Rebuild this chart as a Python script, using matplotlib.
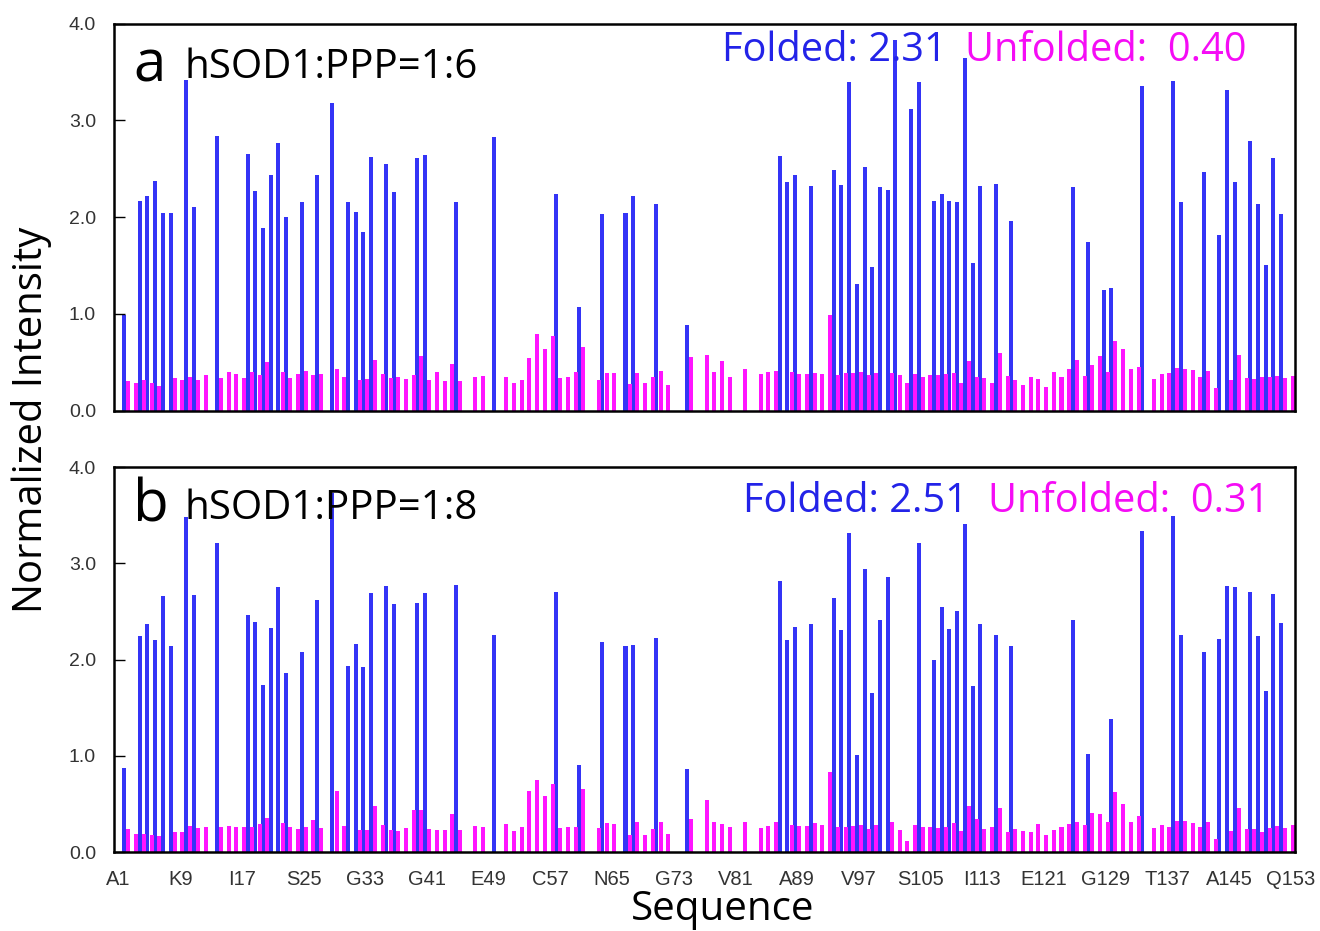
import numpy as np
import matplotlib
matplotlib.use("Agg")
import matplotlib.pyplot as plt

# residues with a folded-state peak, panel a (1:6) and b (1:8)
fold_res_a = [2, 4, 5, 6, 7, 8, 10, 11, 14,
              18, 19, 20, 21, 22, 23, 25, 27, 29,
              31, 32, 33, 34, 36, 37, 40, 41, 45,
              50, 58, 61, 64, 67, 68, 71, 75,
              87, 88, 89, 91, 94, 95, 96, 97, 98, 99,
              100, 101, 102, 104, 105, 107, 108, 109, 110, 111,
              112, 113, 115, 117, 125, 127, 129, 130, 134, 138,
              139, 142, 144, 145, 146, 148, 149, 150, 151, 152]
fold_val_a = [0.99, 2.17, 2.22, 2.37, 2.04, 2.04, 3.42, 2.10, 2.84,
              2.65, 2.27, 1.89, 2.43, 2.77, 2.00, 2.16, 2.44, 3.18,
              2.16, 2.05, 1.85, 2.62, 2.55, 2.26, 2.61, 2.64, 2.16,
              2.83, 2.24, 1.07, 2.03, 2.04, 2.22, 2.14, 0.89,
              2.63, 2.36, 2.43, 2.32, 2.49, 2.33, 3.40, 1.31, 2.52, 1.48,
              2.31, 2.28, 3.83, 3.12, 3.40, 2.17, 2.24, 2.17, 2.16, 3.64,
              1.53, 2.32, 2.34, 1.96, 2.31, 1.74, 1.25, 1.27, 3.35, 3.41,
              2.16, 2.47, 1.82, 3.31, 2.36, 2.79, 2.14, 1.50, 2.61, 2.03]

fold_res_b = [2, 4, 5, 6, 7, 8, 10, 11, 14,
              18, 19, 20, 21, 22, 23, 25, 27, 29,
              31, 32, 33, 34, 36, 37, 40, 41, 45,
              50, 58, 61, 64, 67, 68, 71, 75,
              87, 88, 89, 91, 94, 95, 96, 97, 98, 99,
              100, 101, 105, 107, 108, 109, 110, 111, 112, 113,
              115, 117, 125, 127, 130, 134, 138, 139, 142, 144,
              145, 146, 148, 149, 150, 151, 152]
fold_val_b = [0.88, 2.25, 2.37, 2.20, 2.66, 2.14, 3.48, 2.67, 3.21,
              2.46, 2.39, 1.74, 2.33, 2.75, 1.86, 2.08, 2.62, 3.73,
              1.93, 2.16, 1.92, 2.69, 2.76, 2.58, 2.59, 2.69, 2.78,
              2.26, 2.70, 0.91, 2.18, 2.14, 2.15, 2.22, 0.86,
              2.82, 2.20, 2.34, 2.37, 2.64, 2.31, 3.31, 1.01, 2.94, 1.65,
              2.41, 2.86, 3.21, 2.00, 2.55, 2.32, 2.51, 3.41, 1.73, 2.37,
              2.26, 2.14, 2.41, 1.02, 1.38, 3.34, 3.49, 2.26, 2.08, 2.21,
              2.76, 2.75, 2.70, 2.25, 1.67, 2.68, 2.38]

# residues with an unfolded-state peak (same set in both panels)
unf_res = [2, 3, 4, 5, 6, 8, 9, 10, 11, 12,
           14, 15, 16, 17, 18, 19, 20, 22, 23, 24,
           25, 26, 27, 29, 30, 32, 33, 34, 35, 36,
           37, 38, 39, 40, 41, 42, 43, 44, 45, 47,
           48, 51, 52, 53, 54, 55, 56, 57, 58, 59,
           60, 61, 63, 64, 65, 67, 68, 69, 70, 71,
           72, 75, 77, 78, 79, 80, 82, 84, 85, 86,
           88, 89, 90, 91, 92, 93, 94, 95, 96, 97,
           98, 99, 101, 102, 103, 104, 105, 106, 107, 108,
           109, 110, 111, 112, 113, 114, 115, 116, 117, 118,
           119, 120, 121, 122, 123, 124, 125, 126, 127, 128,
           129, 130, 131, 132, 133, 135, 136, 137, 138, 139,
           140, 141, 142, 143, 145, 146, 147, 148, 149, 150,
           151, 152, 153]
unf_val_a = [0.31, 0.29, 0.32, 0.29, 0.26, 0.34, 0.32, 0.35, 0.32, 0.37,
             0.34, 0.40, 0.38, 0.34, 0.40, 0.37, 0.50, 0.40, 0.34, 0.38,
             0.41, 0.37, 0.38, 0.43, 0.35, 0.32, 0.33, 0.52, 0.38, 0.34,
             0.35, 0.33, 0.37, 0.57, 0.32, 0.40, 0.31, 0.48, 0.31, 0.35,
             0.36, 0.35, 0.29, 0.32, 0.54, 0.79, 0.64, 0.77, 0.34, 0.35,
             0.40, 0.66, 0.32, 0.39, 0.39, 0.28, 0.39, 0.29, 0.35, 0.41,
             0.27, 0.55, 0.58, 0.40, 0.51, 0.35, 0.43, 0.38, 0.40, 0.41,
             0.40, 0.38, 0.38, 0.39, 0.38, 0.99, 0.37, 0.39, 0.39, 0.40,
             0.37, 0.39, 0.39, 0.37, 0.29, 0.38, 0.35, 0.37, 0.37, 0.38,
             0.39, 0.29, 0.51, 0.35, 0.34, 0.29, 0.60, 0.36, 0.32, 0.27,
             0.35, 0.33, 0.24, 0.40, 0.35, 0.43, 0.52, 0.36, 0.47, 0.57,
             0.40, 0.72, 0.64, 0.43, 0.45, 0.33, 0.38, 0.39, 0.44, 0.43,
             0.42, 0.35, 0.41, 0.23, 0.32, 0.58, 0.34, 0.33, 0.35, 0.35,
             0.36, 0.34, 0.36]
unf_val_b = [0.24, 0.19, 0.19, 0.18, 0.17, 0.21, 0.21, 0.27, 0.25, 0.26,
             0.26, 0.27, 0.26, 0.26, 0.26, 0.29, 0.36, 0.30, 0.26, 0.24,
             0.26, 0.34, 0.25, 0.64, 0.27, 0.23, 0.23, 0.48, 0.28, 0.23,
             0.22, 0.25, 0.44, 0.44, 0.24, 0.23, 0.23, 0.40, 0.23, 0.27,
             0.26, 0.29, 0.22, 0.26, 0.64, 0.75, 0.58, 0.71, 0.25, 0.26,
             0.26, 0.66, 0.25, 0.30, 0.29, 0.18, 0.31, 0.18, 0.24, 0.31,
             0.19, 0.35, 0.54, 0.31, 0.29, 0.26, 0.31, 0.25, 0.27, 0.31,
             0.28, 0.27, 0.27, 0.30, 0.28, 0.83, 0.26, 0.26, 0.27, 0.28,
             0.24, 0.28, 0.31, 0.23, 0.12, 0.28, 0.26, 0.26, 0.25, 0.26,
             0.30, 0.22, 0.48, 0.35, 0.24, 0.26, 0.46, 0.21, 0.24, 0.22,
             0.21, 0.29, 0.18, 0.23, 0.26, 0.29, 0.31, 0.28, 0.41, 0.40,
             0.31, 0.63, 0.50, 0.31, 0.38, 0.25, 0.28, 0.26, 0.33, 0.33,
             0.30, 0.26, 0.31, 0.14, 0.22, 0.46, 0.24, 0.24, 0.21, 0.25,
             0.27, 0.25, 0.28]

tick_res = [1, 9, 17, 25, 33, 41, 49, 57, 65, 73, 81, 89, 97, 105, 113, 121, 129, 137, 145, 153]
tick_lab = ['A1', 'K9', 'I17', 'S25', 'G33', 'G41', 'E49', 'C57', 'N65', 'G73',
            'V81', 'A89', 'V97', 'S105', 'I113', 'E121', 'G129', 'T137', 'A145', 'Q153']

panels = [
    ('a', 'hSOD1:PPP=1:6', fold_res_a, fold_val_a, unf_val_a, '2.31', '0.40'),
    ('b', 'hSOD1:PPP=1:8', fold_res_b, fold_val_b, unf_val_b, '2.51', '0.31'),
]

BLUE = '#3434f6'
MAG = '#ff14ff'
W, H = 1320, 931
title_font = 'Open Sans'
tick_font = 'Liberation Sans'

fig = plt.figure(figsize=(W / 100, H / 100), dpi=100)

# axes boxes in pixels: (left, top, right, bottom)
boxes = [(114, 23.5, 1295, 410.7), (114, 467, 1295, 852.3)]
# text anchor positions (pixels, baseline)
txt_pos = [dict(letter=(133, 81), name=(185, 78), fold=(722, 61), unf=(965, 61)),
           dict(letter=(133, 521), name=(185, 519), fold=(743, 512), unf=(988, 512))]

for i, (letter, name, fres, fval, uval, fmean, umean) in enumerate(panels):
    l, t, r, b = boxes[i]
    ax = fig.add_axes([l / W, 1 - b / H, (r - l) / W, (b - t) / H])
    ax.bar(np.array(fres) - 0.27, fval, width=0.52, color=BLUE, linewidth=0)
    ax.bar(np.array(unf_res) + 0.27, uval, width=0.52, color=MAG, linewidth=0)

    ax.set_xlim(0.4, 153.55)
    ax.set_ylim(0, 4.0)
    ax.set_yticks([0, 1, 2, 3, 4])
    ax.set_yticklabels(['0.0', '1.0', '2.0', '3.0', '4.0'])
    ax.tick_params(axis='y', direction='in', length=8, width=1, pad=13,
                   labelsize=14, labelcolor='#333333')
    for lab in ax.get_yticklabels():
        lab.set_fontfamily(tick_font)
    if i == 1:
        ax.set_xticks(tick_res)
        ax.set_xticklabels(tick_lab, fontfamily=tick_font)
        ax.tick_params(axis='x', length=0, pad=13, labelsize=14.5, labelcolor='#333333')
    else:
        ax.set_xticks([])
    for s in ax.spines.values():
        s.set_linewidth(1.8)

    p = txt_pos[i]
    fig.text(p['letter'][0] / W, 1 - p['letter'][1] / H, letter, fontsize=42,
             family=title_font, va='baseline', ha='left')
    fig.text(p['name'][0] / W, 1 - p['name'][1] / H, name, fontsize=29,
             family=title_font, va='baseline', ha='left')
    fig.text(p['fold'][0] / W, 1 - p['fold'][1] / H, 'Folded: ' + fmean, fontsize=28.6,
             family=title_font, color='#2323e8', va='baseline', ha='left')
    fig.text(p['unf'][0] / W, 1 - p['unf'][1] / H, 'Unfolded:  ' + umean, fontsize=28.6,
             family=title_font, color='#f50cf5', va='baseline', ha='left')

fig.text(32 / W, 1 - 420 / H, 'Normalized Intensity', rotation=90, fontsize=28.8,
         family=title_font, va='center', ha='center')
fig.text(723 / W, 1 - 910 / H, 'Sequence', fontsize=29,
         family=title_font, va='center', ha='center')

fig.savefig('out.png', dpi=100)
